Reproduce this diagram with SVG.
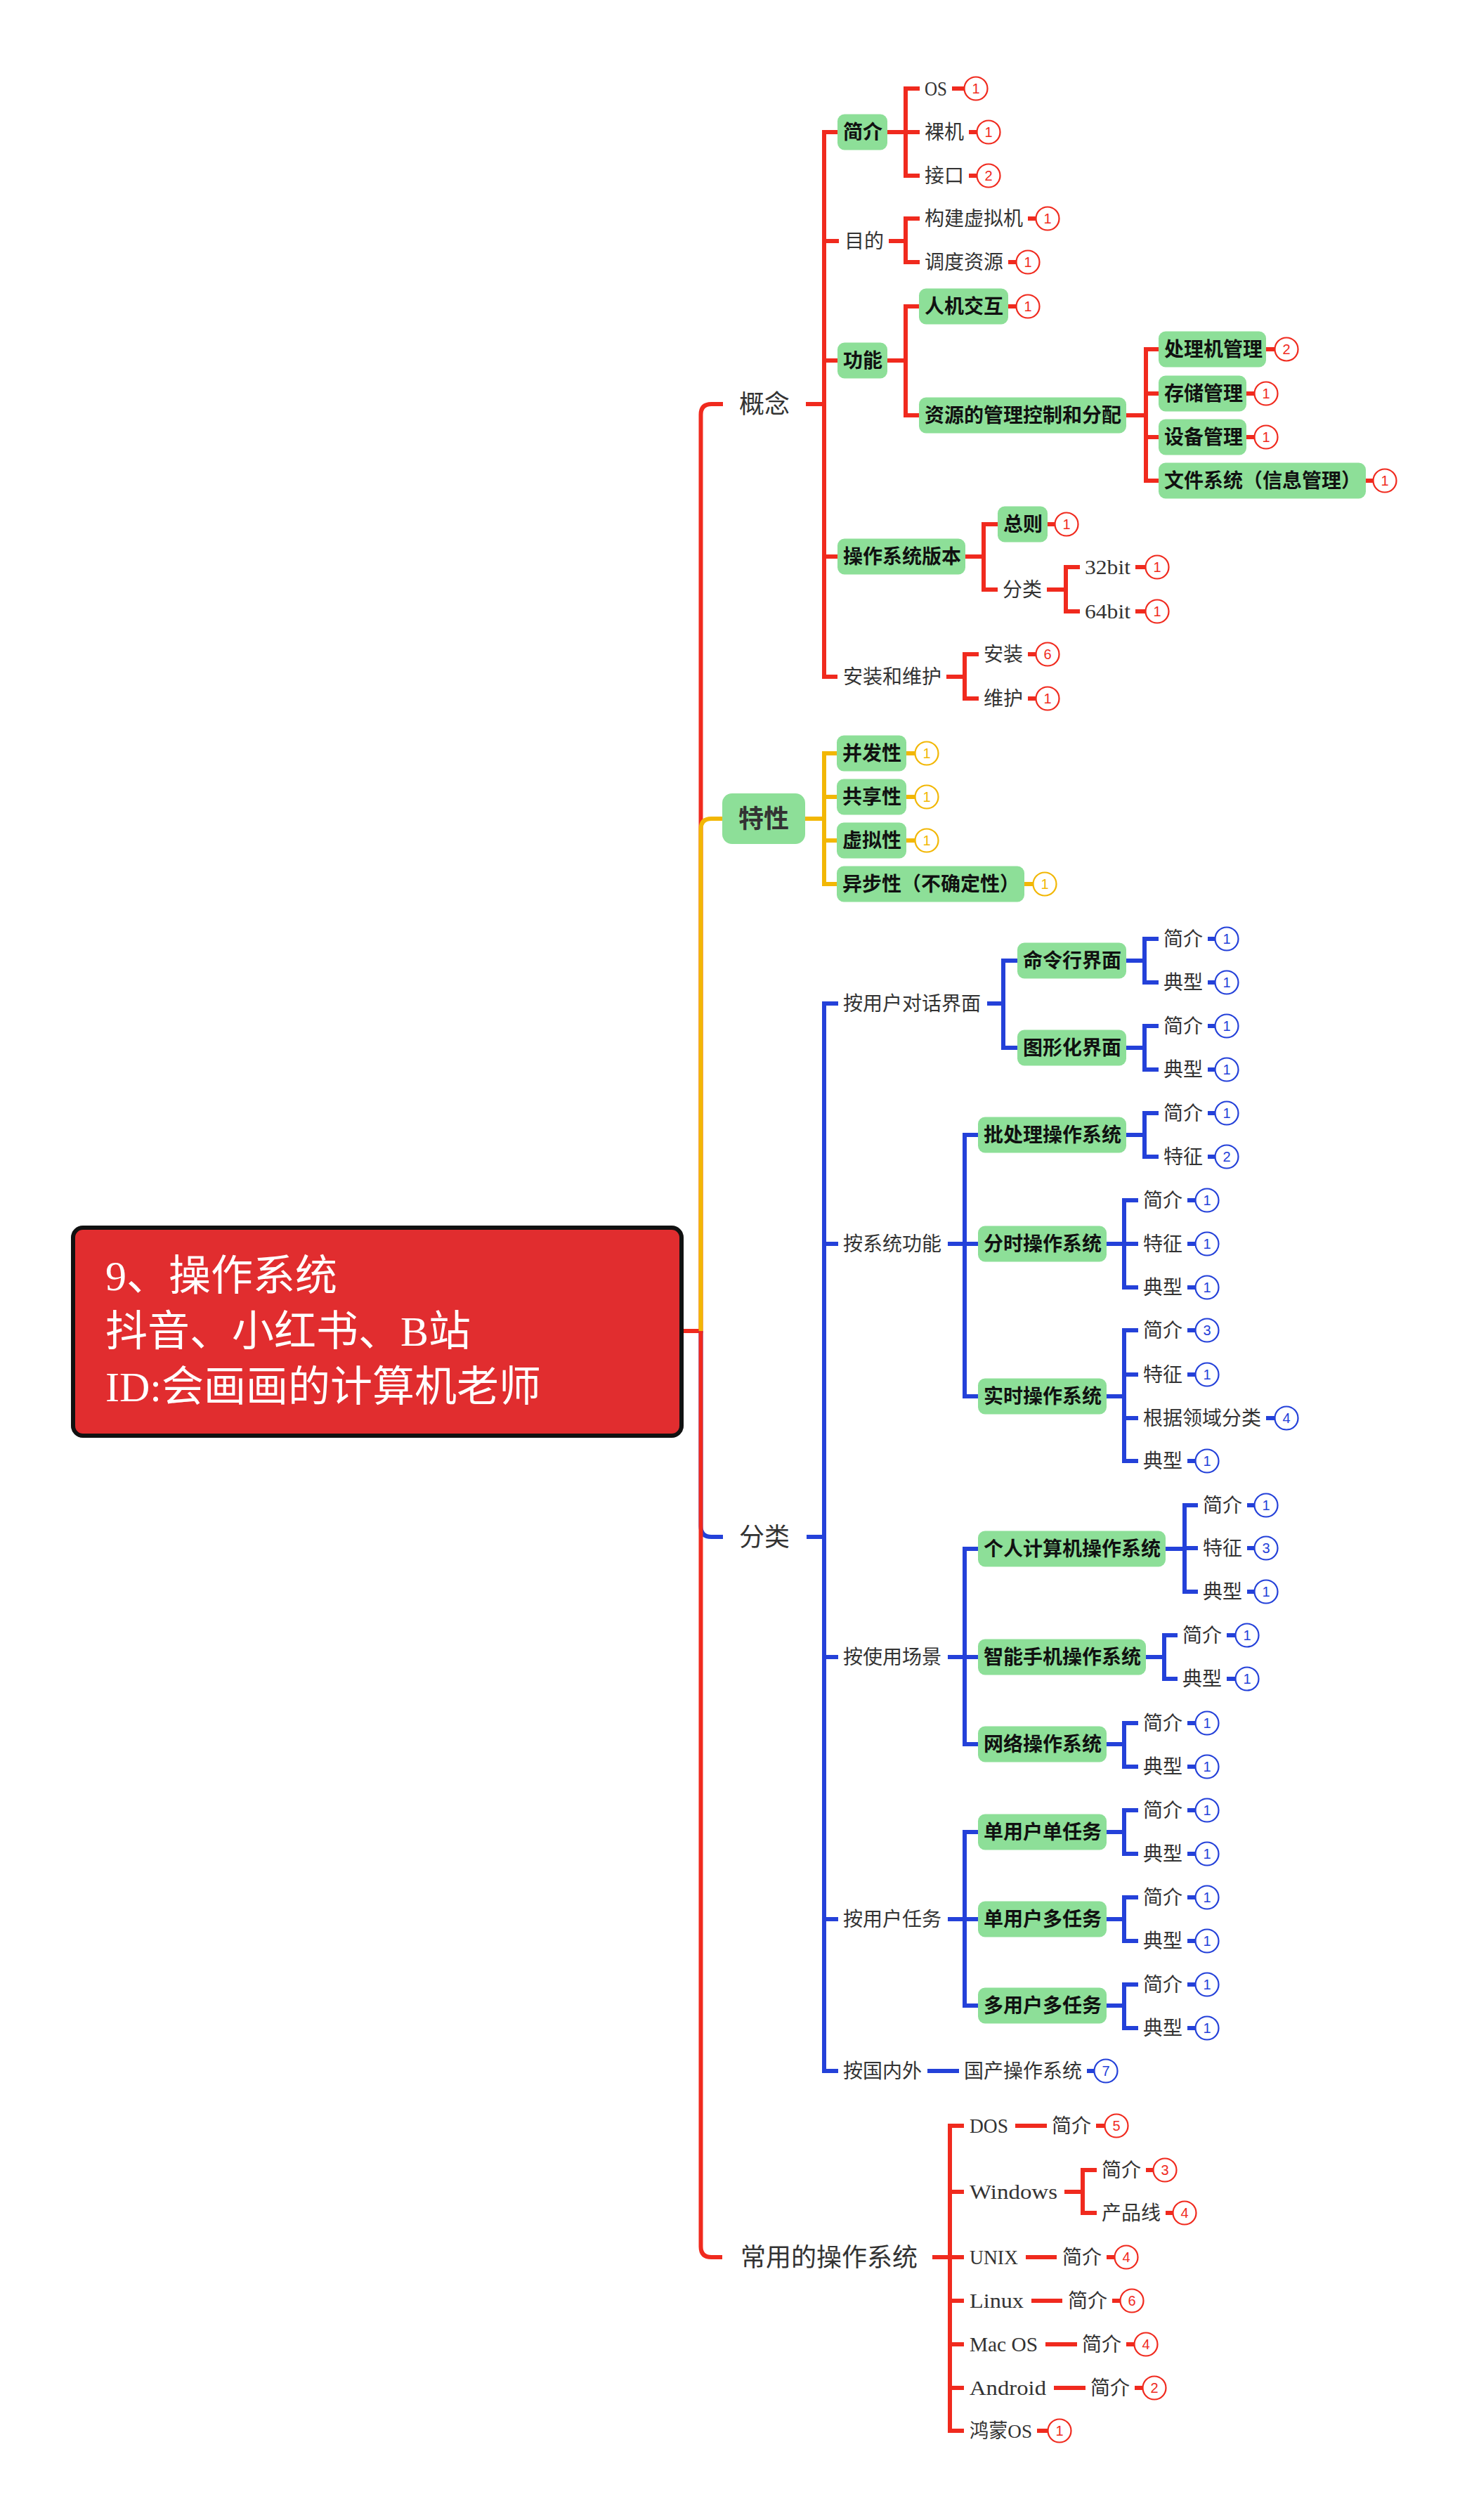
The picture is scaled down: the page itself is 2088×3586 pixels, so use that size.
<svg xmlns="http://www.w3.org/2000/svg" width="2088" height="3586" viewBox="0 0 2088 3586">
<style>
.c{fill:none;stroke-width:6;stroke-linecap:butt}
.R{stroke:#f02a1e}.Y{stroke:#f2b705}.B{stroke:#2441d9}
.box{fill:#8ddf98}
text{font-family:"Liberation Serif","Noto Sans CJK SC",serif}
.t{font-size:28px;fill:#333}
.t.lat{font-size:30px}
.tb{font-size:28px;font-weight:700;fill:#111}
.t1{font-size:36px;fill:#333}
.t1b{font-size:36px;font-weight:700;fill:#333}
.root{font-size:60px;fill:#fff}
.n{font-family:"Liberation Sans",sans-serif;font-size:20px;text-anchor:middle}
.cR{fill:#fff;stroke:#f02a1e;stroke-width:2.2}.nR{fill:#f02a1e}
.cY{fill:#fff;stroke:#f2b705;stroke-width:2.2}.nY{fill:#f2b705}
.cB{fill:#fff;stroke:#2441d9;stroke-width:2.2}.nB{fill:#2441d9}
</style>
<rect width="2088" height="3586" fill="#fff"/>
<g id="connectors">
<path class="c R" d="M972 1894H997.5V590Q997.5 575 1012.5 575H1029"/>
<path class="c Y" d="M997.5 1894V1180Q997.5 1165 1012.5 1165H1028"/>
<path class="c B" d="M997.5 1894V2172Q997.5 2187 1012.5 2187H1029"/>
<path class="c R" d="M997.5 1894V3197Q997.5 3212 1012.5 3212H1028"/>
<path class="c R" d="M1147 575H1173M1173 185V966M1173 188H1192M1173 343H1194M1173 513H1192M1173 792H1192M1173 963H1192"/>
<path class="c R" d="M1263 188H1289M1289 123V253M1289 126H1309M1289 188H1309M1289 250H1309"/>
<path class="c R" d="M1265 343H1289M1289 308V376M1289 311H1309M1289 373H1309"/>
<path class="c R" d="M1263 513H1289M1289 433V594M1289 436H1308M1289 591H1308"/>
<path class="c R" d="M1603 591H1631M1631 494V687M1631 497H1649M1631 560H1649M1631 622H1649M1631 684H1649"/>
<path class="c R" d="M1374 792H1400M1400 743V842M1400 746H1420M1400 839H1420"/>
<path class="c R" d="M1490 839H1517M1517 804V873M1517 807H1537M1517 870H1537"/>
<path class="c R" d="M1347 963H1373M1373 928V997M1373 931H1393M1373 994H1393"/>
<path class="c Y" d="M1146 1165H1173M1173 1069V1261M1173 1072H1191M1173 1134H1191M1173 1196H1191M1173 1258H1191"/>
<path class="c B" d="M1148 2187H1173M1173 1425V2950M1173 1428H1193M1173 1770H1193M1173 2358H1193M1173 2731H1193M1173 2947H1193"/>
<path class="c B" d="M1405 1428H1428M1428 1364V1494M1428 1367H1448M1428 1491H1448"/>
<path class="c B" d="M1603 1367H1629M1629 1333V1401M1629 1336H1649M1629 1398H1649"/>
<path class="c B" d="M1603 1491H1629M1629 1457V1525M1629 1460H1649M1629 1522H1649"/>
<path class="c B" d="M1349 1770H1373M1373 1612V1990M1373 1615H1392M1373 1770H1392M1373 1987H1392"/>
<path class="c B" d="M1603 1615H1629M1629 1581V1649M1629 1584H1649M1629 1646H1649"/>
<path class="c B" d="M1575 1770H1600M1600 1705V1835M1600 1708H1620M1600 1770H1620M1600 1832H1620"/>
<path class="c B" d="M1575 1987H1600M1600 1890V2082M1600 1893H1620M1600 1956H1620M1600 2018H1620M1600 2079H1620"/>
<path class="c B" d="M1349 2358H1373M1373 2201V2485M1373 2204H1392M1373 2358H1392M1373 2482H1392"/>
<path class="c B" d="M1659 2204H1686M1686 2139V2268M1686 2142H1705M1686 2203H1705M1686 2265H1705"/>
<path class="c B" d="M1631 2358H1657M1657 2324V2392M1657 2327H1676M1657 2389H1676"/>
<path class="c B" d="M1575 2482H1600M1600 2449V2517M1600 2452H1620M1600 2514H1620"/>
<path class="c B" d="M1349 2731H1373M1373 2604V2857M1373 2607H1392M1373 2731H1392M1373 2854H1392"/>
<path class="c B" d="M1575 2607H1600M1600 2573V2641M1600 2576H1620M1600 2638H1620"/>
<path class="c B" d="M1575 2731H1600M1600 2697V2765M1600 2700H1620M1600 2762H1620"/>
<path class="c B" d="M1575 2854H1600M1600 2821V2889M1600 2824H1620M1600 2886H1620"/>
<path class="c B" d="M1320 2947H1365"/>
<path class="c R" d="M1327 3212H1352M1352 3022V3462M1352 3025H1372M1352 3119H1372M1352 3212H1372M1352 3274H1372M1352 3336H1372M1352 3398H1372M1352 3459H1372"/>
<path class="c R" d="M1445 3025H1490M1515 3119H1541M1541 3085V3152M1541 3088H1561M1541 3149H1561M1460 3212H1504M1468 3274H1512M1488 3336H1533M1500 3398H1545"/>
</g>
<g id="root">
<rect x="104" y="1747" width="866" height="296" rx="14" fill="#e12d2f" stroke="#111" stroke-width="6"/>
<text class="root" x="150" y="1836">9、操作系统</text>
<text class="root" x="150" y="1915">抖音、小红书、B站</text>
<text class="root" x="150" y="1994">ID:会画画的计算机老师</text>
</g>
<g id="concept">
<text class="t1" x="1052" y="588">概念</text>
<g id="jianjie"><rect class="box" x="1192" y="162.5" width="71" height="51" rx="10"/><text class="tb" x="1200" y="198">简介</text></g>
<g id="os"><text class="t lat" x="1316" y="136" textLength="32" lengthAdjust="spacingAndGlyphs">OS</text><path class="c R" d="M1355 126H1373"/><circle class="cR" cx="1389" cy="126" r="16.5"/><text class="n nR" x="1389" y="133">1</text></g>
<g id="luoji"><text class="t" x="1316" y="198">裸机</text><path class="c R" d="M1379 188H1391"/><circle class="cR" cx="1407" cy="188" r="16.5"/><text class="n nR" x="1407" y="195">1</text></g>
<g id="jiekou"><text class="t" x="1316" y="260">接口</text><path class="c R" d="M1379 250H1391"/><circle class="cR" cx="1407" cy="250" r="16.5"/><text class="n nR" x="1407" y="257">2</text></g>
<g id="mudi"><text class="t" x="1202" y="353">目的</text></g>
<g id="xuniji"><text class="t" x="1316" y="321">构建虚拟机</text><path class="c R" d="M1463 311H1475"/><circle class="cR" cx="1491" cy="311" r="16.5"/><text class="n nR" x="1491" y="318">1</text></g>
<g id="diaodu"><text class="t" x="1316" y="383">调度资源</text><path class="c R" d="M1435 373H1447"/><circle class="cR" cx="1463" cy="373" r="16.5"/><text class="n nR" x="1463" y="380">1</text></g>
<g id="gongneng"><rect class="box" x="1192" y="487.5" width="71" height="51" rx="10"/><text class="tb" x="1200" y="523">功能</text></g>
<g id="renji"><rect class="box" x="1308" y="410.5" width="127" height="51" rx="10"/><text class="tb" x="1316" y="446">人机交互</text><path class="c R" d="M1435 436H1447"/><circle class="cR" cx="1463" cy="436" r="16.5"/><text class="n nR" x="1463" y="443">1</text></g>
<g id="ziyuan"><rect class="box" x="1308" y="565.5" width="295" height="51" rx="10"/><text class="tb" x="1316" y="601">资源的管理控制和分配</text></g>
<g id="chuliji"><rect class="box" x="1649" y="471.5" width="153" height="51" rx="10"/><text class="tb" x="1657" y="507">处理机管理</text><path class="c R" d="M1802 497H1815"/><circle class="cR" cx="1831" cy="497" r="16.5"/><text class="n nR" x="1831" y="504">2</text></g>
<g id="cunchu"><rect class="box" x="1649" y="534.5" width="125" height="51" rx="10"/><text class="tb" x="1657" y="570">存储管理</text><path class="c R" d="M1774 560H1786"/><circle class="cR" cx="1802" cy="560" r="16.5"/><text class="n nR" x="1802" y="567">1</text></g>
<g id="shebei"><rect class="box" x="1649" y="596.5" width="125" height="51" rx="10"/><text class="tb" x="1657" y="632">设备管理</text><path class="c R" d="M1774 622H1786"/><circle class="cR" cx="1802" cy="622" r="16.5"/><text class="n nR" x="1802" y="629">1</text></g>
<g id="wenjian"><rect class="box" x="1649" y="658.5" width="295" height="51" rx="10"/><text class="tb" x="1657" y="694">文件系统（信息管理）</text><path class="c R" d="M1944 684H1955"/><circle class="cR" cx="1971" cy="684" r="16.5"/><text class="n nR" x="1971" y="691">1</text></g>
<g id="banben"><rect class="box" x="1192" y="766.5" width="182" height="51" rx="10"/><text class="tb" x="1200" y="802">操作系统版本</text></g>
<g id="zongze"><rect class="box" x="1420" y="720.5" width="71" height="51" rx="10"/><text class="tb" x="1428" y="756">总则</text><path class="c R" d="M1491 746H1502"/><circle class="cR" cx="1518" cy="746" r="16.5"/><text class="n nR" x="1518" y="753">1</text></g>
<g id="bbfenlei"><text class="t" x="1427" y="849">分类</text></g>
<g id="b32"><text class="t lat" x="1544" y="817" textLength="65" lengthAdjust="spacingAndGlyphs">32bit</text><path class="c R" d="M1616 807H1631"/><circle class="cR" cx="1647" cy="807" r="16.5"/><text class="n nR" x="1647" y="814">1</text></g>
<g id="b64"><text class="t lat" x="1544" y="880" textLength="65" lengthAdjust="spacingAndGlyphs">64bit</text><path class="c R" d="M1616 870H1631"/><circle class="cR" cx="1647" cy="870" r="16.5"/><text class="n nR" x="1647" y="877">1</text></g>
<g id="anzhuangweihu"><text class="t" x="1200" y="973">安装和维护</text></g>
<g id="anzhuang"><text class="t" x="1400" y="941">安装</text><path class="c R" d="M1463 931H1475"/><circle class="cR" cx="1491" cy="931" r="16.5"/><text class="n nR" x="1491" y="938">6</text></g>
<g id="weihu"><text class="t" x="1400" y="1004">维护</text><path class="c R" d="M1463 994H1475"/><circle class="cR" cx="1491" cy="994" r="16.5"/><text class="n nR" x="1491" y="1001">1</text></g>
</g>
<g id="texing">
<rect class="box" x="1028" y="1129" width="118" height="72" rx="14"/><text class="t1b" x="1051" y="1178">特性</text>
<g id="bingfa"><rect class="box" x="1191" y="1046.5" width="99" height="51" rx="10"/><text class="tb" x="1199" y="1082">并发性</text><path class="c Y" d="M1290 1072H1303"/><circle class="cY" cx="1319" cy="1072" r="16.5"/><text class="n nY" x="1319" y="1079">1</text></g>
<g id="gongxiang"><rect class="box" x="1191" y="1108.5" width="99" height="51" rx="10"/><text class="tb" x="1199" y="1144">共享性</text><path class="c Y" d="M1290 1134H1303"/><circle class="cY" cx="1319" cy="1134" r="16.5"/><text class="n nY" x="1319" y="1141">1</text></g>
<g id="xuni"><rect class="box" x="1191" y="1170.5" width="99" height="51" rx="10"/><text class="tb" x="1199" y="1206">虚拟性</text><path class="c Y" d="M1290 1196H1303"/><circle class="cY" cx="1319" cy="1196" r="16.5"/><text class="n nY" x="1319" y="1203">1</text></g>
<g id="yibu"><rect class="box" x="1191" y="1232.5" width="267" height="51" rx="10"/><text class="tb" x="1199" y="1268">异步性（不确定性）</text><path class="c Y" d="M1458 1258H1471"/><circle class="cY" cx="1487" cy="1258" r="16.5"/><text class="n nY" x="1487" y="1265">1</text></g>
</g>
<g id="fenlei">
<text class="t1" x="1052" y="2200">分类</text>
<g id="duihua"><text class="t" x="1200" y="1438">按用户对话界面</text></g>
<g id="minglinghang"><rect class="box" x="1448" y="1341.5" width="155" height="51" rx="10"/><text class="tb" x="1456" y="1377">命令行界面</text></g>
<g><text class="t" x="1656" y="1346">简介</text><path class="c B" d="M1719 1336H1730"/><circle class="cB" cx="1746" cy="1336" r="16.5"/><text class="n nB" x="1746" y="1343">1</text></g>
<g><text class="t" x="1656" y="1408">典型</text><path class="c B" d="M1719 1398H1730"/><circle class="cB" cx="1746" cy="1398" r="16.5"/><text class="n nB" x="1746" y="1405">1</text></g>
<g id="tuxinghua"><rect class="box" x="1448" y="1465.5" width="155" height="51" rx="10"/><text class="tb" x="1456" y="1501">图形化界面</text></g>
<g><text class="t" x="1656" y="1470">简介</text><path class="c B" d="M1719 1460H1730"/><circle class="cB" cx="1746" cy="1460" r="16.5"/><text class="n nB" x="1746" y="1467">1</text></g>
<g><text class="t" x="1656" y="1532">典型</text><path class="c B" d="M1719 1522H1730"/><circle class="cB" cx="1746" cy="1522" r="16.5"/><text class="n nB" x="1746" y="1529">1</text></g>
<g id="xitonggongneng"><text class="t" x="1200" y="1780">按系统功能</text></g>
<g id="pichuli"><rect class="box" x="1392" y="1589.5" width="211" height="51" rx="10"/><text class="tb" x="1400" y="1625">批处理操作系统</text></g>
<g><text class="t" x="1656" y="1594">简介</text><path class="c B" d="M1719 1584H1730"/><circle class="cB" cx="1746" cy="1584" r="16.5"/><text class="n nB" x="1746" y="1591">1</text></g>
<g><text class="t" x="1656" y="1656">特征</text><path class="c B" d="M1719 1646H1730"/><circle class="cB" cx="1746" cy="1646" r="16.5"/><text class="n nB" x="1746" y="1653">2</text></g>
<g id="fenshi"><rect class="box" x="1392" y="1744.5" width="183" height="51" rx="10"/><text class="tb" x="1400" y="1780">分时操作系统</text></g>
<g><text class="t" x="1627" y="1718">简介</text><path class="c B" d="M1690 1708H1702"/><circle class="cB" cx="1718" cy="1708" r="16.5"/><text class="n nB" x="1718" y="1715">1</text></g>
<g><text class="t" x="1627" y="1780">特征</text><path class="c B" d="M1690 1770H1702"/><circle class="cB" cx="1718" cy="1770" r="16.5"/><text class="n nB" x="1718" y="1777">1</text></g>
<g><text class="t" x="1627" y="1842">典型</text><path class="c B" d="M1690 1832H1702"/><circle class="cB" cx="1718" cy="1832" r="16.5"/><text class="n nB" x="1718" y="1839">1</text></g>
<g id="shishi"><rect class="box" x="1392" y="1961.5" width="183" height="51" rx="10"/><text class="tb" x="1400" y="1997">实时操作系统</text></g>
<g><text class="t" x="1627" y="1903">简介</text><path class="c B" d="M1690 1893H1702"/><circle class="cB" cx="1718" cy="1893" r="16.5"/><text class="n nB" x="1718" y="1900">3</text></g>
<g><text class="t" x="1627" y="1966">特征</text><path class="c B" d="M1690 1956H1702"/><circle class="cB" cx="1718" cy="1956" r="16.5"/><text class="n nB" x="1718" y="1963">1</text></g>
<g><text class="t" x="1627" y="2028">根据领域分类</text><path class="c B" d="M1802 2018H1815"/><circle class="cB" cx="1831" cy="2018" r="16.5"/><text class="n nB" x="1831" y="2025">4</text></g>
<g><text class="t" x="1627" y="2089">典型</text><path class="c B" d="M1690 2079H1702"/><circle class="cB" cx="1718" cy="2079" r="16.5"/><text class="n nB" x="1718" y="2086">1</text></g>
<g id="changjing"><text class="t" x="1200" y="2368">按使用场景</text></g>
<g id="geren"><rect class="box" x="1392" y="2178.5" width="267" height="51" rx="10"/><text class="tb" x="1400" y="2214">个人计算机操作系统</text></g>
<g><text class="t" x="1712" y="2152">简介</text><path class="c B" d="M1775 2142H1786"/><circle class="cB" cx="1802" cy="2142" r="16.5"/><text class="n nB" x="1802" y="2149">1</text></g>
<g><text class="t" x="1712" y="2213">特征</text><path class="c B" d="M1775 2203H1786"/><circle class="cB" cx="1802" cy="2203" r="16.5"/><text class="n nB" x="1802" y="2210">3</text></g>
<g><text class="t" x="1712" y="2275">典型</text><path class="c B" d="M1775 2265H1786"/><circle class="cB" cx="1802" cy="2265" r="16.5"/><text class="n nB" x="1802" y="2272">1</text></g>
<g id="shouji"><rect class="box" x="1392" y="2332.5" width="239" height="51" rx="10"/><text class="tb" x="1400" y="2368">智能手机操作系统</text></g>
<g><text class="t" x="1683" y="2337">简介</text><path class="c B" d="M1746 2327H1759"/><circle class="cB" cx="1775" cy="2327" r="16.5"/><text class="n nB" x="1775" y="2334">1</text></g>
<g><text class="t" x="1683" y="2399">典型</text><path class="c B" d="M1746 2389H1759"/><circle class="cB" cx="1775" cy="2389" r="16.5"/><text class="n nB" x="1775" y="2396">1</text></g>
<g id="wangluo"><rect class="box" x="1392" y="2456.5" width="183" height="51" rx="10"/><text class="tb" x="1400" y="2492">网络操作系统</text></g>
<g><text class="t" x="1627" y="2462">简介</text><path class="c B" d="M1690 2452H1702"/><circle class="cB" cx="1718" cy="2452" r="16.5"/><text class="n nB" x="1718" y="2459">1</text></g>
<g><text class="t" x="1627" y="2524">典型</text><path class="c B" d="M1690 2514H1702"/><circle class="cB" cx="1718" cy="2514" r="16.5"/><text class="n nB" x="1718" y="2521">1</text></g>
<g id="renwu"><text class="t" x="1200" y="2741">按用户任务</text></g>
<g id="dandan"><rect class="box" x="1392" y="2581.5" width="183" height="51" rx="10"/><text class="tb" x="1400" y="2617">单用户单任务</text></g>
<g><text class="t" x="1627" y="2586">简介</text><path class="c B" d="M1690 2576H1702"/><circle class="cB" cx="1718" cy="2576" r="16.5"/><text class="n nB" x="1718" y="2583">1</text></g>
<g><text class="t" x="1627" y="2648">典型</text><path class="c B" d="M1690 2638H1702"/><circle class="cB" cx="1718" cy="2638" r="16.5"/><text class="n nB" x="1718" y="2645">1</text></g>
<g id="danduo"><rect class="box" x="1392" y="2705.5" width="183" height="51" rx="10"/><text class="tb" x="1400" y="2741">单用户多任务</text></g>
<g><text class="t" x="1627" y="2710">简介</text><path class="c B" d="M1690 2700H1702"/><circle class="cB" cx="1718" cy="2700" r="16.5"/><text class="n nB" x="1718" y="2707">1</text></g>
<g><text class="t" x="1627" y="2772">典型</text><path class="c B" d="M1690 2762H1702"/><circle class="cB" cx="1718" cy="2762" r="16.5"/><text class="n nB" x="1718" y="2769">1</text></g>
<g id="duoduo"><rect class="box" x="1392" y="2828.5" width="183" height="51" rx="10"/><text class="tb" x="1400" y="2864">多用户多任务</text></g>
<g><text class="t" x="1627" y="2834">简介</text><path class="c B" d="M1690 2824H1702"/><circle class="cB" cx="1718" cy="2824" r="16.5"/><text class="n nB" x="1718" y="2831">1</text></g>
<g><text class="t" x="1627" y="2896">典型</text><path class="c B" d="M1690 2886H1702"/><circle class="cB" cx="1718" cy="2886" r="16.5"/><text class="n nB" x="1718" y="2893">1</text></g>
<g id="guoneiwai"><text class="t" x="1200" y="2957">按国内外</text></g>
<g id="guochan"><text class="t" x="1372" y="2957">国产操作系统</text><path class="c B" d="M1547 2947H1558"/><circle class="cB" cx="1574" cy="2947" r="16.5"/><text class="n nB" x="1574" y="2954">7</text></g>
</g>
<g id="changyong">
<text class="t1" x="1054" y="3225">常用的操作系统</text>
<g id="dos"><text class="t lat" x="1380" y="3035" textLength="55" lengthAdjust="spacingAndGlyphs">DOS</text></g>
<g><text class="t" x="1497" y="3035">简介</text><path class="c R" d="M1560 3025H1573"/><circle class="cR" cx="1589" cy="3025" r="16.5"/><text class="n nR" x="1589" y="3032">5</text></g>
<g id="windows"><text class="t lat" x="1380" y="3129" textLength="125" lengthAdjust="spacingAndGlyphs">Windows</text></g>
<g><text class="t" x="1568" y="3098">简介</text><path class="c R" d="M1631 3088H1642"/><circle class="cR" cx="1658" cy="3088" r="16.5"/><text class="n nR" x="1658" y="3095">3</text></g>
<g><text class="t" x="1568" y="3159">产品线</text><path class="c R" d="M1659 3149H1670"/><circle class="cR" cx="1686" cy="3149" r="16.5"/><text class="n nR" x="1686" y="3156">4</text></g>
<g id="unix"><text class="t lat" x="1380" y="3222" textLength="69" lengthAdjust="spacingAndGlyphs">UNIX</text></g>
<g><text class="t" x="1512" y="3222">简介</text><path class="c R" d="M1575 3212H1587"/><circle class="cR" cx="1603" cy="3212" r="16.5"/><text class="n nR" x="1603" y="3219">4</text></g>
<g id="linux"><text class="t lat" x="1380" y="3284" textLength="77" lengthAdjust="spacingAndGlyphs">Linux</text></g>
<g><text class="t" x="1520" y="3284">简介</text><path class="c R" d="M1583 3274H1595"/><circle class="cR" cx="1611" cy="3274" r="16.5"/><text class="n nR" x="1611" y="3281">6</text></g>
<g id="macos"><text class="t lat" x="1380" y="3346" textLength="97" lengthAdjust="spacingAndGlyphs">Mac OS</text></g>
<g><text class="t" x="1540" y="3346">简介</text><path class="c R" d="M1603 3336H1615"/><circle class="cR" cx="1631" cy="3336" r="16.5"/><text class="n nR" x="1631" y="3343">4</text></g>
<g id="android"><text class="t lat" x="1380" y="3408" textLength="109" lengthAdjust="spacingAndGlyphs">Android</text></g>
<g><text class="t" x="1552" y="3408">简介</text><path class="c R" d="M1615 3398H1627"/><circle class="cR" cx="1643" cy="3398" r="16.5"/><text class="n nR" x="1643" y="3405">2</text></g>
<g id="hongmeng"><text class="t" x="1380" y="3469" textLength="89" lengthAdjust="spacingAndGlyphs">鸿蒙OS</text><path class="c R" d="M1476 3459H1492"/><circle class="cR" cx="1508" cy="3459" r="16.5"/><text class="n nR" x="1508" y="3466">1</text></g>
</g>
</svg>
